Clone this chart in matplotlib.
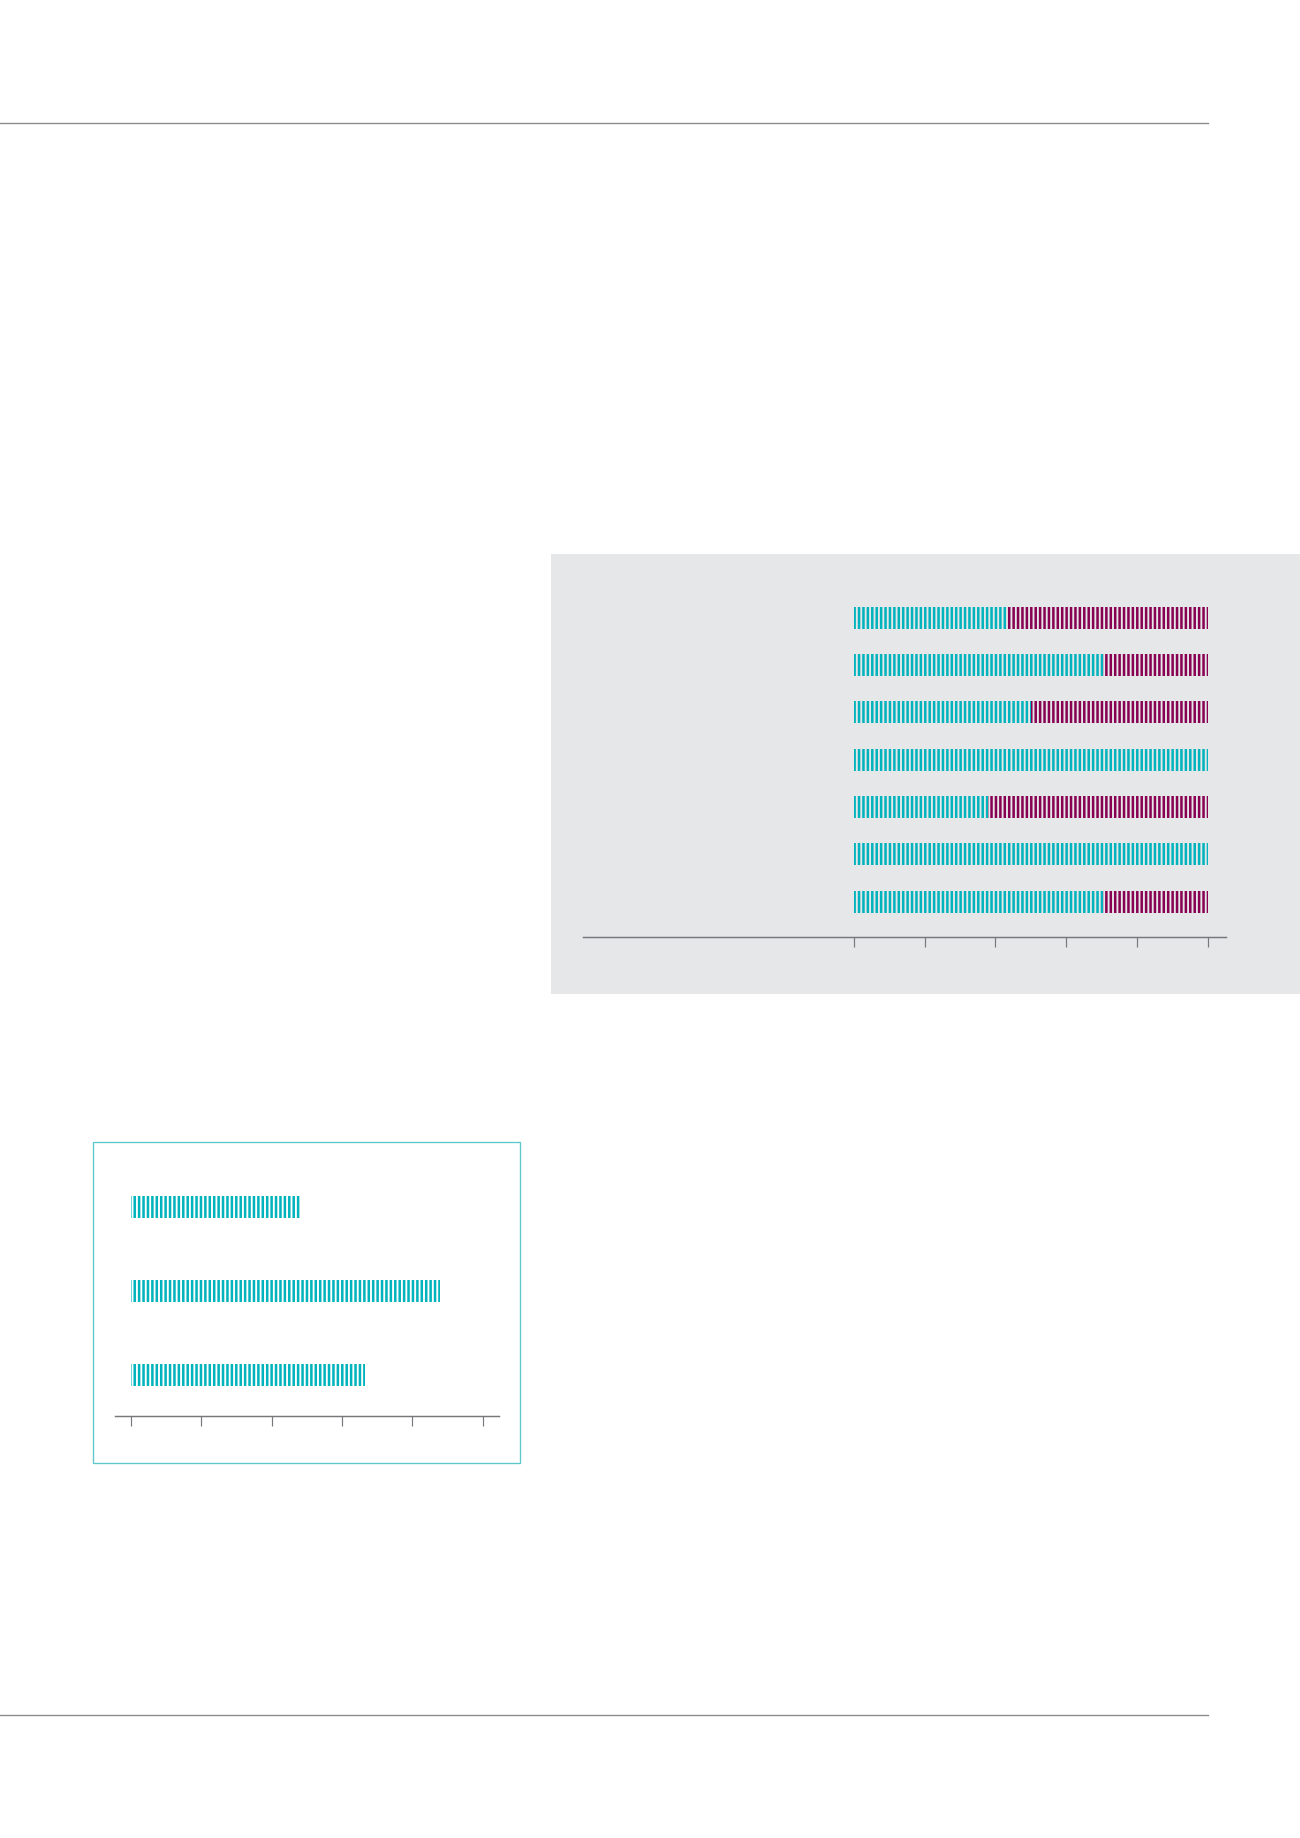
import matplotlib
matplotlib.use("Agg")
import matplotlib.pyplot as plt
from matplotlib.patches import Rectangle
from matplotlib.lines import Line2D

# data
stack_rows = ["r1", "r2", "r3", "r4", "r5", "r6", "r7"]
teal_share = [43, 70.5, 50, 100, 38, 100, 70.5]
magenta_share = [100 - v for v in teal_share]
stack_ticks = [0, 20, 40, 60, 80, 100]

box_rows = ["a", "b", "c"]
box_values = [24, 44, 33.3]
box_ticks = [0, 10, 20, 30, 40, 50]

TEAL = "#00B3BC"
MAGENTA = "#870052"
PANEL = "#E6E7E8"
AXIS = "#77787B"

W, H = 1300, 1839
DPI = 106  # with '||||' hatching this gives a stripe every ~4.4 px
plt.rcParams["hatch.linewidth"] = 1.7


def fx(px):
    return px / W


def fy(py):
    return 1 - py / H


def axes_box(fig, left, right, top, bottom):
    return fig.add_axes([fx(left), fy(bottom), fx(right) - fx(left), fy(top) - fy(bottom)])


def style_axis(ax, ticks):
    for s in ["top", "right", "left"]:
        ax.spines[s].set_visible(False)
    ax.spines["bottom"].set_color(AXIS)
    ax.spines["bottom"].set_linewidth(1.0)
    ax.set_xticks(ticks)
    ax.set_xticklabels([])
    ax.set_yticks([])
    ax.tick_params(axis="x", direction="out", length=7, width=0.8, color=AXIS)
    ax.patch.set_alpha(0)


fig = plt.figure(figsize=(W / DPI, H / DPI), dpi=DPI)
fig.patch.set_facecolor("white")

# rules at top and bottom of the page
for y in (124.3, 1716):
    fig.add_artist(Line2D([0, fx(1208)], [fy(y), fy(y)], color="#8A8B8D", lw=0.9))

# grey panel behind the stacked chart
fig.add_artist(Rectangle((fx(551), fy(995)), fx(1300) - fx(551), fy(555) - fy(995),
                         facecolor=PANEL, edgecolor="none", zorder=0))

# stacked chart
ax1 = axes_box(fig, 583, 1226, 555, 938.3)
ypos = list(range(len(stack_rows)))
ax1.barh(ypos, teal_share, height=0.465, color="none", edgecolor=TEAL,
         hatch="||||", linewidth=0)
ax1.barh(ypos, magenta_share, left=teal_share, height=0.465, color="none",
         edgecolor=MAGENTA, hatch="||||", linewidth=0)
ax1.set_xlim(-76.66, 105.23)
ax1.set_ylim(6.753, -1.346)
style_axis(ax1, stack_ticks)

# framed chart
fig.add_artist(Rectangle((fx(93), fy(1464)), fx(520) - fx(93), fy(1143) - fy(1464),
                         facecolor="none", edgecolor="#5CC8CC", lw=0.9))
ax2 = axes_box(fig, 114.7, 499, 1143, 1417)
ypos2 = list(range(len(box_rows)))
ax2.barh(ypos2, box_values, height=0.262, color="none", edgecolor=TEAL,
         hatch="||||", linewidth=0)
ax2.set_xlim(-2.32, 52.32)
ax2.set_ylim(2.492, -0.770)
style_axis(ax2, box_ticks)

fig.savefig("out.png", dpi=DPI)
